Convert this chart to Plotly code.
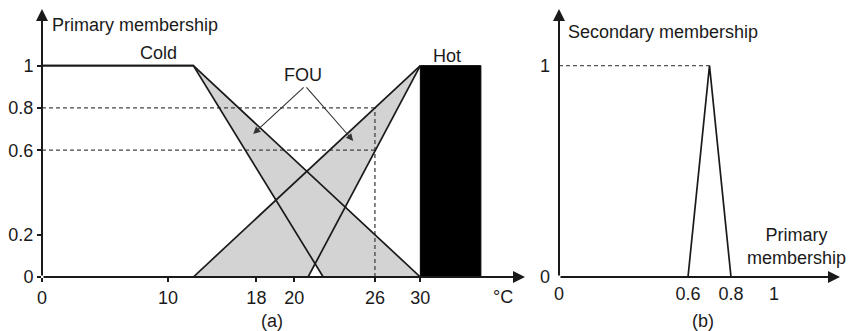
import plotly.graph_objects as go

# ---- data (panel a: primary memberships, x in degC) ----
cold_upper_x = [0, 12, 30]
cold_upper_y = [1, 1, 0]
cold_lower_x = [0, 12, 22.3]
cold_lower_y = [1, 1, 0]
hot_upper_x = [12, 30]
hot_upper_y = [0, 1]
hot_lower_x = [21.1, 30]
hot_lower_y = [0, 1]
hot_block_x = [30, 34.8]
hot_block_y = [0, 1]
alpha_levels = [0.6, 0.8]
x_prime = 26.4
a_tick_vals = [0, 10, 17, 20, 26.4, 30]
a_tick_text = ["0", "10", "18", "20", "26", "30"]
a_ytick_vals = [0, 0.2, 0.6, 0.8, 1]
a_ytick_text = ["0", "0.2", "0.6", "0.8", "1"]

# ---- data (panel b: secondary membership) ----
sec_x = [0.6, 0.7, 0.8]
sec_y = [0, 1, 0]
b_tick_vals = [0, 0.6, 0.8, 1]
b_tick_text = ["0", "0.6", "0.8", "1"]
b_ytick_vals = [0, 1]
b_ytick_text = ["0", "1"]

W, H = 850, 331
FONT = "Liberation Sans, Arial, sans-serif"
INK = "#1a1a1a"
GREY = "#d3d3d3"

fig = go.Figure()

# FOU fills
fig.add_trace(go.Scatter(
    x=cold_upper_x + cold_lower_x[::-1], y=cold_upper_y + cold_lower_y[::-1],
    fill="toself", fillcolor=GREY, line=dict(width=0), mode="lines",
    hoverinfo="skip", xaxis="x", yaxis="y"))
fig.add_trace(go.Scatter(
    x=hot_upper_x + hot_lower_x[::-1], y=hot_upper_y + hot_lower_y[::-1],
    fill="toself", fillcolor=GREY, line=dict(width=0), mode="lines",
    hoverinfo="skip", xaxis="x", yaxis="y"))
# Hot block
fig.add_trace(go.Scatter(
    x=[hot_block_x[0], hot_block_x[1], hot_block_x[1], hot_block_x[0], hot_block_x[0]],
    y=[hot_block_y[0], hot_block_y[0], hot_block_y[1], hot_block_y[1], hot_block_y[0]],
    fill="toself", fillcolor="black", line=dict(color="black", width=1),
    mode="lines", hoverinfo="skip", xaxis="x", yaxis="y"))

# dashed guides
for lv in alpha_levels:
    fig.add_trace(go.Scatter(x=[0, x_prime], y=[lv, lv], mode="lines",
                             line=dict(color="#444", width=1.3, dash="4px,3px"),
                             hoverinfo="skip", xaxis="x", yaxis="y"))
fig.add_trace(go.Scatter(x=[x_prime, x_prime], y=[0, max(alpha_levels)], mode="lines",
                         line=dict(color="#444", width=1.3, dash="4px,3px"),
                         hoverinfo="skip", xaxis="x", yaxis="y"))

# MF lines
for xs, ys in [(cold_upper_x, cold_upper_y), (cold_lower_x, cold_lower_y),
               (hot_upper_x, hot_upper_y), (hot_lower_x, hot_lower_y)]:
    fig.add_trace(go.Scatter(x=xs, y=ys, mode="lines",
                             line=dict(color=INK, width=1.7),
                             hoverinfo="skip", xaxis="x", yaxis="y"))

# panel b
fig.add_trace(go.Scatter(x=[0, sec_x[1]], y=[1, 1], mode="lines",
                         line=dict(color="#555", width=1.3, dash="4px,3px"),
                         hoverinfo="skip", xaxis="x2", yaxis="y2"))
fig.add_trace(go.Scatter(x=sec_x, y=sec_y, mode="lines",
                         line=dict(color=INK, width=1.7),
                         hoverinfo="skip", xaxis="x2", yaxis="y2"))

ax_a_end = 38.3
ax_b_end = 1.307
y_top = 1.268

common_tick = dict(showgrid=False, zeroline=False, showline=False, automargin=False,
                   tickfont=dict(family=FONT, size=18, color=INK))

fig.update_layout(
    width=W, height=H, margin=dict(l=0, r=0, t=0, b=0, pad=0, autoexpand=False),
    paper_bgcolor="white", plot_bgcolor="white", showlegend=False,
    xaxis=dict(domain=[42 / W, 525 / W], range=[0, ax_a_end], anchor="y",
               tickvals=a_tick_vals, ticktext=a_tick_text,
               ticks="outside", ticklen=4, tickwidth=1.5, tickcolor=INK,
               **common_tick),
    yaxis=dict(domain=[54 / H, 322 / H], range=[0, y_top], anchor="x",
               tickvals=a_ytick_vals, ticktext=a_ytick_text,
               ticks="outside", ticklen=4, tickwidth=1.5, tickcolor=INK,
               **common_tick),
    xaxis2=dict(domain=[559 / W, 840 / W], range=[0, ax_b_end], anchor="y2",
                tickvals=b_tick_vals, ticktext=b_tick_text, ticks="",
                ticklabelstandoff=4,
                **common_tick),
    yaxis2=dict(domain=[54 / H, 322 / H], range=[0, y_top], anchor="x2",
                tickvals=b_ytick_vals, ticktext=b_ytick_text, ticks="",
                ticklabelstandoff=8,
                **common_tick),
)

def axis_arrow(xr, yr, x0, y0, x1, y1):
    fig.add_annotation(x=x1, y=y1, ax=x0, ay=y0, xref=xr, yref=yr,
                       axref=xr, ayref=yr, showarrow=True, arrowhead=2,
                       arrowsize=1.2, arrowwidth=2, arrowcolor=INK, text="")

axis_arrow("x", "y", 0, 0, ax_a_end, 0)
axis_arrow("x", "y", 0, 0, 0, y_top)
axis_arrow("x2", "y2", 0, 0, ax_b_end, 0)
axis_arrow("x2", "y2", 0, 0, 0, y_top)

def label(text, x, y, xr="paper", yr="paper", xanchor="center", yanchor="middle"):
    fig.add_annotation(text=text, x=x, y=y, xref=xr, yref=yr, showarrow=False,
                       xanchor=xanchor, yanchor=yanchor,
                       font=dict(family=FONT, size=18, color=INK))

def px(xp, yp):
    return xp / W, (H - yp) / H

x_, y_ = px(50, 25); label("Primary membership", x_, y_, xanchor="left")
x_, y_ = px(158, 53); label("Cold", x_, y_)
x_, y_ = px(447, 56); label("Hot", x_, y_)
x_, y_ = px(303, 75); label("FOU", x_, y_)
x_, y_ = px(503, 297); label("°C", x_, y_)
x_, y_ = px(272, 321); label("(a)", x_, y_)
x_, y_ = px(566, 32); label("Secondary membership", x_, y_, xanchor="left")
x_, y_ = px(796, 246); label("Primary<br>membership", x_, y_)
x_, y_ = px(703, 321); label("(b)", x_, y_)

# FOU pointer arrows
apex = (20.87, 0.904)
for tip in [(16.75, 0.677), (24.68, 0.644)]:
    fig.add_annotation(x=tip[0], y=tip[1], ax=apex[0], ay=apex[1], xref="x", yref="y",
                       axref="x", ayref="y", showarrow=True, arrowhead=2,
                       arrowsize=1.3, arrowwidth=1.1, arrowcolor="#333", text="")

fig.write_html("out.html", config={"displayModeBar": False},
               post_script="document.body.style.margin='0';document.body.style.overflow='hidden';")
